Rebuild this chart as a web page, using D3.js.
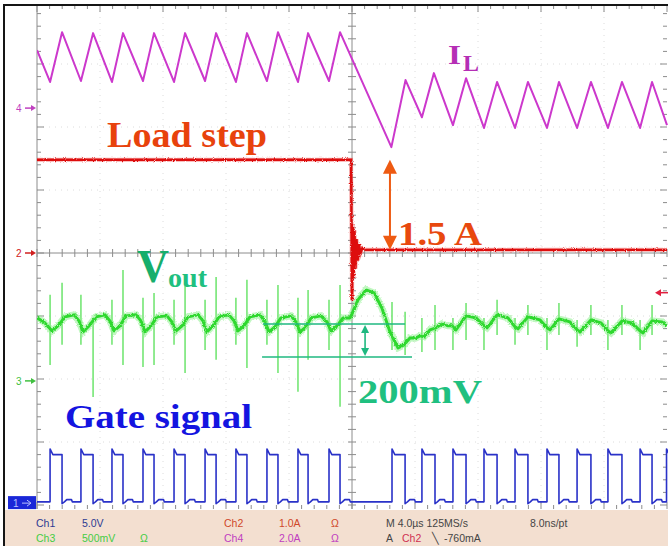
<!DOCTYPE html>
<html><head><meta charset="utf-8">
<script src="https://cdn.jsdelivr.net/npm/d3@7"></script>
<style>html,body{margin:0;padding:0;background:#fff;} svg{display:block;}</style>
</head><body>
<svg id="c" width="668" height="546"></svg>
<script>
// ---------- DATA ----------
// time axis: 4.0 µs/div, trigger at 0
const timeDomain = [-20, 20];
// Ch4 inductor current IL (A), vertices of the triangle wave
const ilTime = [-20.00, -19.17, -18.41, -17.21, -16.44, -15.24, -14.54, -13.27, -12.57, -11.30, -10.60,
  -9.33, -8.63, -7.37, -6.67, -5.40, -4.70, -3.43, -2.79, -1.46, -0.76,
  2.50, 3.40, 4.44, 5.20, 6.41, 7.24, 8.38, 9.21, 10.35, 11.17, 12.38, 13.14, 14.29, 15.17, 16.25, 17.14, 18.29, 19.05, 20.00];
const ilAmp = [1.84, 0.83, 2.41, 0.86, 2.38, 0.83, 2.38, 0.86, 2.38, 0.83, 2.38,
  0.86, 2.38, 0.83, 2.38, 0.86, 2.41, 0.83, 2.38, 0.86, 2.41,
  -1.24, 0.89, -0.29, 1.11, -0.54, 0.95, -0.63, 0.83, -0.63, 0.83, -0.63, 0.83, -0.63, 0.83, -0.63, 0.83, -0.63, 0.83, -0.54];
// Ch2 load step current (A)
const loadTime = [-20, -0.06, 0.00, 0.05, 0.10, 0.16, 0.22, 0.29, 0.36, 0.44, 0.54, 0.66, 0.85, 20];
const loadAmp  = [1.48, 1.48, -0.75, 0.45, -0.40, 0.36, -0.25, 0.22, -0.12, 0.14, 0.00, 0.08, 0.05, 0.05];
const triggerLevel = -0.63;
// Ch3 output voltage Vout (mV), ripple baseline
const voutTime = [-20.00, -19.56, -19.05, -18.67, -18.22, -17.65, -17.33, -17.08, -16.70, -16.25, -15.68, -15.37, -15.11,
  -14.73, -14.35, -13.71, -13.40, -13.14, -12.76, -12.38, -11.75, -11.43, -11.17, -10.79, -10.41, -9.78, -9.46, -9.21,
  -8.83, -8.44, -7.81, -7.49, -7.24, -6.86, -6.48, -5.84, -5.52, -5.27, -4.89, -4.51, -3.87, -3.56, -3.30, -2.92, -2.60,
  -1.97, -1.59, -1.33, -0.95, -0.57, -0.13,
  0.00, 0.38, 0.89, 1.40, 1.90, 2.41, 2.92, 3.30, 3.68, 4.06, 4.32, 4.57, 4.95, 5.33, 5.71, 6.10,
  6.35, 6.60, 7.24, 7.87, 8.38, 8.57, 9.21, 9.90, 10.35, 10.54, 11.17, 11.94, 12.38, 12.57, 13.14, 13.84, 14.29, 14.48,
  15.17, 15.81, 16.25, 16.44, 17.14, 17.78, 18.29, 18.48, 19.05, 19.68, 20.00];
const voutMv = [500, 468, 397, 437, 508, 524, 476, 389, 437, 508, 524, 476, 397,
  437, 516, 524, 476, 389, 437, 508, 516, 468, 397, 437, 508, 524, 476, 389,
  437, 508, 524, 476, 397, 437, 508, 524, 468, 389, 429, 500, 516, 468, 389, 429, 500,
  516, 468, 397, 437, 500, 500,
  532, 643, 722, 698, 579, 389, 262, 286, 341, 341, 357, 349, 405, 421, 452, 437,
  437, 405, 516, 500, 437, 421, 524, 500, 429, 413, 508, 484, 421, 405, 492, 468, 405, 389,
  484, 460, 397, 381, 476, 460, 397, 381, 476, 468, 437];
// Vout switching spikes (mV): time, top, bottom
const spikeTime = [-19.17, -18.41, -17.21, -16.44, -15.24, -14.54, -13.27, -12.57, -11.30, -10.60, -9.33, -8.63,
  -7.37, -6.67, -5.40, -4.70, -3.43, -2.79, -1.46, -0.76,
  2.54, 3.37, 4.44, 5.27, 6.41, 7.24, 8.38, 9.21, 10.35, 11.17, 12.38, 13.14, 14.29, 15.17, 16.25, 17.14, 18.29, 19.05];
const spikeTop = [683, 778, 683, 484, 643, 881, 659, 698, 643, 825, 643, 825,
  659, 802, 643, 762, 659, 722, 643, 762,
  627, 548, 500, 603, 500, 619, 500, 643, 500, 603, 500, 619, 484, 603, 484, 603, 484, 603];
const spikeBottom = [127, 286, 286, -127, 286, 127, 111, 127, 286, 63, 246, 167,
  286, 103, 286, 63, -87, 167, 246, -206,
  246, 206, 230, 246, 246, 325, 246, 365, 286, 365, 246, 365, 270, 365, 246, 365, 246, 365];
// Ch1 gate signal (V): switching edges
const gateRise = [-19.17, -17.21, -15.24, -13.27, -11.30, -9.33, -7.37, -5.40, -3.43, -1.46,
  2.54, 4.44, 6.41, 8.38, 10.35, 12.38, 14.29, 16.25, 18.29, 19.97];
const gateFall = [-18.41, -16.44, -14.54, -12.57, -10.60, -8.63, -6.67, -4.70, -2.79, -0.76,
  3.37, 5.27, 7.24, 9.21, 11.17, 13.14, 15.17, 17.14, 19.05, 20.60];
const gateLevels = {low: 0.10, shelf: 0.28, high: 3.85, over: 4.30};
// annotations
const stepAnnot = {time: 2.41, from: 1.48, to: 0.05};
const rippleAnnot = {top: 452, bottom: 190, topFrom: -5.65, topTo: 3.37, botFrom: -5.71, botTo: 3.81, arrowAt: 0.83};
// info strip labels
const infoRow1 = ["Ch1", "5.0V", "Ch2", "1.0A", "Ω", "M 4.0µs 125MS/s", "8.0ns/pt"];
const infoRow2 = ["Ch3", "500mV", "Ω", "Ch4", "2.0A", "Ω", "A", "Ch2", "╲", "-760mA"];

// ---------- SCALES ----------
const svg = d3.select("#c");
const X = d3.scaleLinear().domain(timeDomain).range([37, 667]);
const DIV = d3.scaleLinear().domain([-4, 4]).range([505, 1]);
const chScale = (pos, perDiv) => v => DIV(pos + v / perDiv);
const ch1 = chScale(-3.97, 5), ch2 = chScale(0, 1), ch3 = chScale(-2.03, 500), ch4 = chScale(2.30, 2);
const PT = 5, PB = 509, PL = 37, PR = 667;

const defs = svg.append("defs");
defs.append("clipPath").attr("id", "plot").append("rect")
  .attr("x", PL).attr("y", PT).attr("width", PR - PL + 1).attr("height", PB - PT);
const nf = defs.append("filter").attr("id", "fuzz").attr("filterUnits", "userSpaceOnUse")
  .attr("x", 0).attr("y", 0).attr("width", 668).attr("height", 546);
nf.append("feTurbulence").attr("type", "fractalNoise").attr("baseFrequency", "0.9").attr("numOctaves", 1).attr("seed", 4).attr("result", "t");
nf.append("feDisplacementMap").attr("in", "SourceGraphic").attr("in2", "t").attr("scale", 3.5)
  .attr("xChannelSelector", "R").attr("yChannelSelector", "G");

// background
svg.append("rect").attr("width", 668).attr("height", 546).attr("fill", "#fff");

// faint grid
const g = svg.append("g");
const vDivs = d3.range(-16, 17, 4);
g.selectAll(".vg").data(vDivs.filter(d => d !== 0)).join("line")
  .attr("x1", d => X(d)).attr("x2", d => X(d)).attr("y1", PT).attr("y2", PB)
  .attr("stroke", "#dcdcdc").attr("stroke-dasharray", "1,5");
g.selectAll(".hg").data([-3, -2, -1, 1, 2, 3]).join("line")
  .attr("y1", d => DIV(d)).attr("y2", d => DIV(d)).attr("x1", PL).attr("x2", PR)
  .attr("stroke", "#dcdcdc").attr("stroke-dasharray", "1,5");

// centre axes with minor ticks
const axisCol = "#8c8c8c";
g.append("line").attr("x1", PL).attr("x2", PR).attr("y1", DIV(0)).attr("y2", DIV(0)).attr("stroke", axisCol);
g.append("line").attr("x1", X(0)).attr("x2", X(0)).attr("y1", PT).attr("y2", PB).attr("stroke", axisCol);
const tMinor = d3.range(-20, 20.01, 0.8);
const dMinor = d3.range(-4, 4.01, 0.2).filter(d => DIV(d) >= PT && DIV(d) <= PB);
g.selectAll(".ht").data(tMinor).join("line")
  .attr("x1", d => X(d)).attr("x2", d => X(d)).attr("y1", DIV(0) - 4).attr("y2", DIV(0) + 4).attr("stroke", axisCol);
g.selectAll(".vt").data(dMinor).join("line")
  .attr("y1", d => DIV(d)).attr("y2", d => DIV(d)).attr("x1", X(0) - 4).attr("x2", X(0) + 4).attr("stroke", axisCol);
// border axes
g.append("line").attr("x1", PL).attr("x2", PL).attr("y1", PT).attr("y2", PB).attr("stroke", axisCol);
g.selectAll(".lt").data(dMinor).join("line")
  .attr("y1", d => DIV(d)).attr("y2", d => DIV(d)).attr("x1", PL).attr("x2", d => PL + (Math.abs(d - Math.round(d)) < 0.01 ? 7 : 4)).attr("stroke", axisCol);
g.selectAll(".rt").data(dMinor).join("line")
  .attr("y1", d => DIV(d)).attr("y2", d => DIV(d)).attr("x1", PR).attr("x2", d => PR - (Math.abs(d - Math.round(d)) < 0.01 ? 7 : 4)).attr("stroke", axisCol);
g.selectAll(".tt").data(tMinor).join("line")
  .attr("x1", d => X(d)).attr("x2", d => X(d)).attr("y1", PT).attr("y2", d => PT + (Math.abs(d / 4 - Math.round(d / 4)) < 0.01 ? 7 : 4)).attr("stroke", axisCol);
g.selectAll(".bt").data(tMinor).join("line")
  .attr("x1", d => X(d)).attr("x2", d => X(d)).attr("y1", PB).attr("y2", d => PB - (Math.abs(d / 4 - Math.round(d / 4)) < 0.01 ? 7 : 4)).attr("stroke", axisCol);

// ---------- TRACES ----------
const tr = svg.append("g").attr("clip-path", "url(#plot)");

// Ch1 gate signal
const gatePts = [[timeDomain[0], gateLevels.low]];
gateRise.forEach((r, i) => {
  const f = gateFall[i];
  gatePts.push([r, gateLevels.low], [r, gateLevels.over], [r + 0.1, gateLevels.high + 0.2], [r + 0.18, gateLevels.high],
    [f, gateLevels.high], [f, gateLevels.low - 0.15], [f + 0.15, gateLevels.low], [f + 0.3, gateLevels.shelf],
    [f + 0.6, gateLevels.shelf], [f + 0.65, gateLevels.low]);
});
tr.append("path").attr("d", d3.line().x(d => X(d[0])).y(d => ch1(d[1]))(gatePts))
  .attr("fill", "none").attr("stroke", "#2a32c8").attr("stroke-width", 1.6).attr("stroke-linejoin", "round");

// Ch3 Vout
const voutLine = d3.line().x(d => X(d[0])).y(d => ch3(d[1])).curve(d3.curveLinear);
const voutPts = d3.zip(voutTime, voutMv);
const spikes = d3.zip(spikeTime, spikeTop, spikeBottom);
tr.selectAll(".sp").data(spikes).join("line")
  .attr("x1", d => X(d[0])).attr("x2", d => X(d[0])).attr("y1", d => ch3(d[1])).attr("y2", d => ch3(d[2]))
  .attr("stroke", "#55e055").attr("stroke-width", 1.3);
tr.append("path").attr("d", voutLine(voutPts)).attr("fill", "none")
  .attr("stroke", "#8ef08e").attr("stroke-width", 7).attr("stroke-opacity", 0.55).attr("filter", "url(#fuzz)");
tr.append("path").attr("d", voutLine(voutPts)).attr("fill", "none")
  .attr("stroke", "#2fd82f").attr("stroke-width", 3).attr("stroke-linejoin", "round").attr("filter", "url(#fuzz)");

// Ch2 load step
const loadLine = d3.line().x(d => X(d[0])).y(d => ch2(d[1]));
const loadPts = d3.zip(loadTime, loadAmp);
tr.append("path").attr("d", loadLine(loadPts)).attr("fill", "none")
  .attr("stroke", "#f05858").attr("stroke-width", 4).attr("stroke-opacity", 0.5).attr("filter", "url(#fuzz)");
tr.append("path").attr("d", loadLine(loadPts)).attr("fill", "none")
  .attr("stroke", "#dd1010").attr("stroke-width", 2.4).attr("filter", "url(#fuzz)");

// Ch4 IL
tr.append("path").attr("d", d3.line().x(d => X(d[0])).y(d => ch4(d[1]))(d3.zip(ilTime, ilAmp)))
  .attr("fill", "none").attr("stroke", "#cc38cc").attr("stroke-width", 2).attr("stroke-linejoin", "round");

// ---------- ANNOTATIONS ----------
const serif = "'Liberation Serif','Times New Roman',serif";
// 1.5 A arrow
const ax = X(stepAnnot.time), ay1 = ch2(stepAnnot.from), ay2 = ch2(stepAnnot.to);
const orange = "#ee5a12";
svg.append("line").attr("x1", ax).attr("x2", ax).attr("y1", ay1 + 12).attr("y2", ay2 - 12).attr("stroke", orange).attr("stroke-width", 2);
svg.append("path").attr("d", `M${ax},${ay1} L${ax - 7},${ay1 + 14} L${ax + 7},${ay1 + 14} Z`).attr("fill", orange);
svg.append("path").attr("d", `M${ax},${ay2} L${ax - 7},${ay2 - 14} L${ax + 7},${ay2 - 14} Z`).attr("fill", orange);

// 200 mV lines
const teal = "#1fb880";
const ry1 = ch3(rippleAnnot.top), ry2 = ch3(rippleAnnot.bottom);
svg.append("line").attr("x1", X(rippleAnnot.topFrom)).attr("x2", X(rippleAnnot.topTo)).attr("y1", ry1).attr("y2", ry1).attr("stroke", teal).attr("stroke-width", 1.6);
svg.append("line").attr("x1", X(rippleAnnot.botFrom)).attr("x2", X(rippleAnnot.botTo)).attr("y1", ry2).attr("y2", ry2).attr("stroke", teal).attr("stroke-width", 1.6);
const rx = X(rippleAnnot.arrowAt);
svg.append("line").attr("x1", rx).attr("x2", rx).attr("y1", ry1 + 6).attr("y2", ry2 - 6).attr("stroke", teal).attr("stroke-width", 1.6);
svg.append("path").attr("d", `M${rx},${ry1 + 1} L${rx - 4},${ry1 + 9} L${rx + 4},${ry1 + 9} Z`).attr("fill", teal);
svg.append("path").attr("d", `M${rx},${ry2 - 1} L${rx - 4},${ry2 - 9} L${rx + 4},${ry2 - 9} Z`).attr("fill", teal);

function label(txt, x, y, size, color, len) {
  const t = svg.append("text").attr("x", x).attr("y", y).attr("font-family", serif).attr("font-weight", "bold")
    .attr("font-size", size).attr("fill", color).text(txt);
  if (len) t.attr("textLength", len).attr("lengthAdjust", "spacingAndGlyphs");
  return t;
}
label("I", 448, 64, 27, "#b52fb5", 13);
label("L", 463, 71, 23, "#b52fb5", 16);
label("Load step", 107, 147, 36, "#e8420c", 160);
label("1.5 A", 398, 245, 33, "#e8480e", 84);
label("V", 137, 282, 46, "#16ae6c", 32);
label("out", 168, 287, 28, "#1fc080", 39);
label("200mV", 358, 403, 34, "#1fc080", 124);
label("Gate signal", 65, 428, 34, "#1414e0", 187);

// ---------- CHANNEL MARKERS ----------
const markers = [{n: "4", y: ch4(0), c: "#c040c0"}, {n: "2", y: ch2(0), c: "#d02020"}, {n: "3", y: ch3(0), c: "#40c040"}];
markers.forEach(m => {
  svg.append("text").attr("x", 16).attr("y", m.y + 4).attr("font-family", "'Liberation Sans',Arial,sans-serif")
    .attr("font-size", 10).attr("fill", m.c).text(m.n);
  svg.append("line").attr("x1", 25).attr("x2", 32).attr("y1", m.y).attr("y2", m.y).attr("stroke", m.c).attr("stroke-width", 1.5);
  svg.append("path").attr("d", `M31,${m.y - 3} L36,${m.y} L31,${m.y + 3} Z`).attr("fill", m.c);
});
const y1m = ch1(0);
svg.append("rect").attr("x", 8).attr("y", y1m - 7).attr("width", 28).attr("height", 13).attr("fill", "#1a28d8");
svg.append("text").attr("x", 13).attr("y", y1m + 4).attr("font-family", "'Liberation Sans',Arial,sans-serif")
  .attr("font-size", 10).attr("fill", "#b8c0ff").text("1");
svg.append("path").attr("d", `M22,${y1m} L30,${y1m} M27,${y1m - 3} L31,${y1m} L27,${y1m + 3}`).attr("stroke", "#b8c0ff").attr("fill", "none");
// trigger level marker (right)
const ty = ch2(triggerLevel);
svg.append("line").attr("x1", 660).attr("x2", 668).attr("y1", ty).attr("y2", ty).attr("stroke", "#e02040").attr("stroke-width", 1.5);
svg.append("path").attr("d", `M655,${ty} L661,${ty - 3.5} L661,${ty + 3.5} Z`).attr("fill", "#e02040");

// ---------- INFO STRIP ----------
svg.append("rect").attr("x", 5).attr("y", 510).attr("width", 663).attr("height", 36).attr("fill", "#f3dfd0");
const sans = "'Liberation Sans',Arial,sans-serif";
const navy = "#2c3a92", grn = "#44cc44", red = "#d0482a", mag = "#c040c0", dark = "#454545";
const row1X = [36, 82, 224, 279, 331, 386, 530], row1C = [navy, navy, red, red, red, dark, dark];
const row2X = [36, 82, 140, 224, 279, 331, 386, 402, 432, 444], row2C = [grn, grn, grn, mag, mag, mag, dark, "#d03050", dark, dark];
infoRow1.forEach((t, i) => svg.append("text").attr("x", row1X[i]).attr("y", 527).attr("font-family", sans)
  .attr("font-size", 10.5).attr("fill", row1C[i]).text(t));
infoRow2.forEach((t, i) => svg.append("text").attr("x", row2X[i]).attr("y", 542).attr("font-family", sans)
  .attr("font-size", 10.5).attr("fill", row2C[i]).text(t));

// outer frame
svg.append("rect").attr("x", 3).attr("y", 4).attr("width", 665).attr("height", 2).attr("fill", "#151515");
svg.append("rect").attr("x", 3).attr("y", 4).attr("width", 2).attr("height", 542).attr("fill", "#151515");
</script>
</body></html>
